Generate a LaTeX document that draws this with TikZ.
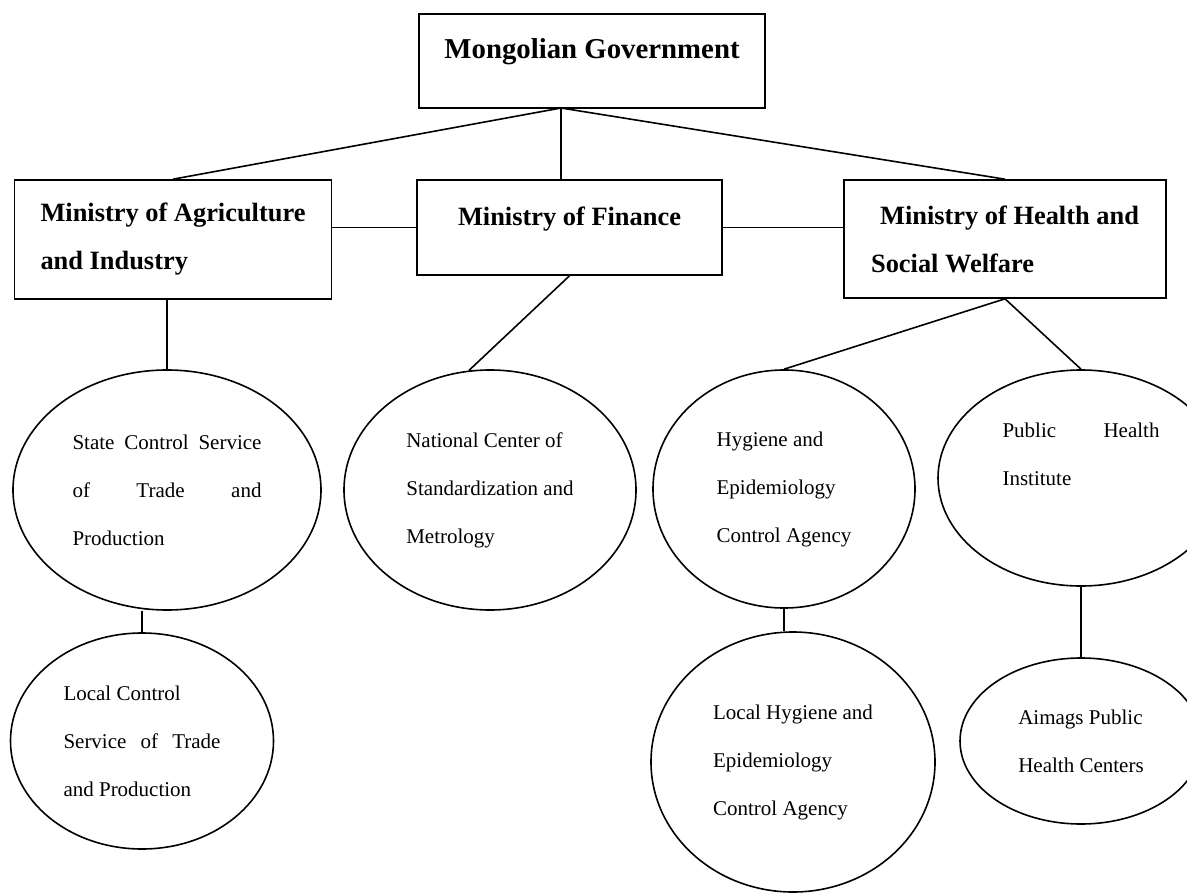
\documentclass[tikz,border=0pt]{standalone}
\usepackage{fontspec}
\setmainfont{Liberation Serif}
\usetikzlibrary{shapes.geometric}

\begin{document}
\begin{tikzpicture}[x=0.5pt, y=-0.5pt, line width=0.8pt,
  box/.style={draw, rectangle, inner sep=0pt, align=left, font=\fontsize{13.2}{24}\selectfont\bfseries},
  oval/.style={draw, ellipse, inner sep=0pt, align=left, font=\fontsize{10.5}{24}\selectfont},
  oneline/.style={text height=10pt, text depth=12pt}]
\useasboundingbox (0, 0) rectangle (1187, 893);
\clip (0, 0) rectangle (1187, 893);

\node[box, oneline, minimum width=173pt, minimum height=47pt, font=\fontsize{14.4}{24}\selectfont\bfseries](gov) at (592, 61) {Mongolian Government};
\coordinate(top) at (561, 108);

\node[box, minimum width=158.5pt, minimum height=59.5pt](ma) at (173, 239.5) {Ministry of Agriculture\\and Industry};
\node[box, oneline, minimum width=152.5pt, minimum height=47.5pt](mf) at (569.5, 227.5) {Ministry of Finance};
\node[box, minimum width=161pt, minimum height=59pt](mh) at (1005, 239) {\hspace{4.5pt}Ministry of Health and\\Social Welfare};

\node[oval, minimum width=154pt, minimum height=120pt](a1) at (167, 490) {\makebox[94.5pt][s]{State Control Service}\\\makebox[94.5pt][s]{of Trade and}\\Production};
\node[oval, minimum width=131.5pt, minimum height=108pt](a2) at (142, 741) {Local Control\\\makebox[78.5pt][s]{Service of Trade}\\and Production};
\node[oval, minimum width=146pt, minimum height=120pt](f1) at (490, 490) {National Center of\\Standardization and\\Metrology};
\node[oval, minimum width=131pt, minimum height=119pt](h1) at (784, 489) {Hygiene and\\Epidemiology\\Control Agency};
\node[oval, minimum width=142pt, minimum height=130pt](h2) at (793, 762) {Local Hygiene and\\Epidemiology\\Control Agency};
\node[oval, minimum width=143pt, minimum height=108pt](p1) at (1081, 478) {\makebox[78.5pt][s]{Public Health}\\Institute\\\mbox{}};
\node[oval, minimum width=121pt, minimum height=83pt](p2) at (1081, 741) {Aimags Public\\Health Centers};

\draw (top)--(ma.north); \draw (top)--(top |- mf.north); \draw (top)--(mh.north);
\draw (mf.west -| ma.east)--(mf.west); \draw (mf.east)--(mf.east -| mh.west);
\draw (ma.south -| a1.north)--(a1.north); \draw (a1.south -| a2.north)--(a2.north);
\draw (mf.south)--(f1.100);
\draw (mh.south)--(h1.north); \draw (mh.south)--(p1.north);
\draw (h1.south)--(h1.south |- h2.north); \draw (p1.south)--(p2.north);
\end{tikzpicture}
\end{document}
